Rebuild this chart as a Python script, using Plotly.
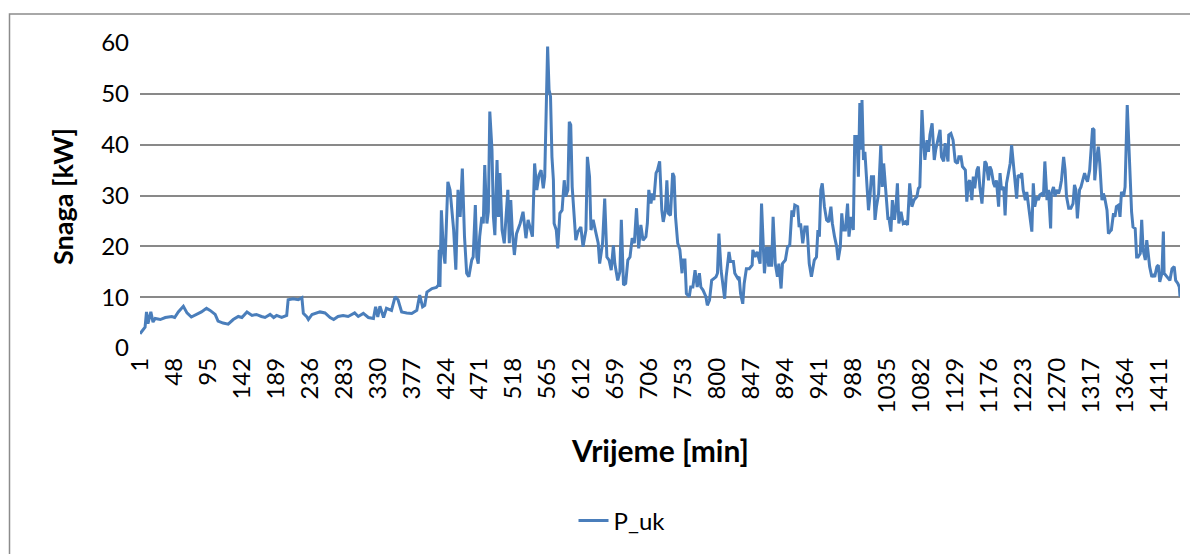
import plotly.graph_objects as go

minutes = [
    1, 8, 10, 12, 16, 19, 22, 29, 36, 45, 49, 54, 61, 66, 72, 79, 86, 93, 98, 105,
    109, 116, 123, 130, 137, 142, 149, 156, 162, 169, 174, 181, 186, 190, 197, 204, 206, 213, 220, 225,
    227, 232, 234, 239, 245, 250, 257, 264, 269, 275, 282, 289, 298, 303, 310, 317, 324, 327, 330, 333,
    338, 342, 349, 354, 358, 363, 370, 377, 384, 388, 392, 395, 398, 405, 411, 414, 415, 416, 418, 421,
    423, 427, 430, 435, 438, 441, 444, 447, 450, 453, 456, 460, 462,
    465, 467, 469, 471, 474, 476, 478, 481, 483, 485, 488, 490, 492, 495, 497, 499, 502, 505, 507, 510,
    512, 514, 516, 519, 522, 527, 531, 535, 538, 541, 544, 547, 550, 553, 556, 559, 561, 563, 565, 567,
    569, 571, 573, 574, 577, 579, 582, 585, 588, 590, 593, 595, 597, 599, 602, 604, 607, 611, 614, 618,
    620, 623, 625, 628, 631, 635, 637, 641, 644, 647, 650, 653, 656, 658, 662, 665, 667, 670, 673, 676,
    679, 682, 685, 688, 691, 694, 697, 701,
    703, 705, 708, 710, 712, 715, 717, 720, 723, 725, 728, 730, 732, 735, 738, 740, 742, 745, 748, 751,
    752, 755, 757, 761, 763, 766, 769, 772, 775, 777, 780, 784, 786, 789, 792, 795, 798, 800, 802, 805,
    807, 810, 812, 816, 818, 822, 824, 828, 830, 832, 835, 837, 840, 844, 848, 849, 852, 855, 859, 861,
    865, 868, 871, 872, 875, 877, 880, 883, 885, 888, 890, 894, 897, 900, 903, 905, 907, 911, 913, 915,
    918, 921, 924, 927, 930, 934, 937,
    939, 941, 943, 945, 948, 951, 954, 957, 959, 962, 965, 967, 970, 972, 974, 977, 980, 982, 985, 988,
    990, 993, 995, 997, 999, 1000, 1002, 1004, 1006, 1009, 1011, 1013, 1016, 1018, 1020, 1023, 1026, 1028, 1030, 1033,
    1036, 1037, 1040, 1042, 1045, 1047, 1049, 1051, 1054, 1057, 1060, 1063, 1066, 1069, 1072, 1076, 1078, 1080, 1083, 1085,
    1087, 1090, 1092, 1094, 1097, 1100, 1102, 1106, 1108, 1110, 1113, 1115, 1119, 1120, 1123, 1126, 1129, 1132, 1134, 1137,
    1139, 1143, 1145, 1147, 1149, 1152, 1154, 1156, 1159, 1161, 1163, 1166, 1168,
    1170, 1172, 1175, 1177, 1179, 1182, 1184, 1186, 1189, 1191, 1193, 1196, 1198, 1200, 1202, 1205, 1207, 1209, 1212, 1214,
    1216, 1219, 1221, 1223, 1226, 1228, 1230, 1232, 1235, 1237, 1239, 1242, 1244, 1246, 1249, 1251, 1253, 1256, 1258, 1261,
    1262, 1265, 1267, 1269, 1272, 1274, 1276, 1279, 1281, 1283, 1286, 1289, 1292, 1294, 1296, 1298, 1301, 1303, 1305, 1308,
    1310, 1312, 1315, 1317, 1319, 1321, 1322, 1325, 1327, 1329, 1332, 1334, 1336, 1339, 1341, 1343, 1345, 1348, 1350, 1352,
    1355, 1357, 1359, 1362, 1364, 1367, 1369, 1371, 1373, 1375, 1378, 1380, 1382, 1385, 1387, 1389, 1392, 1394, 1396, 1398,
    1401, 1403, 1405, 1408, 1410, 1412, 1415, 1417, 1418, 1422, 1424, 1426, 1429, 1432, 1434, 1437, 1439, 1440,
]

p_uk = [
    2.8, 4.1, 7.1, 4.8, 7.1, 5.1, 5.8, 5.6, 6.0, 6.2, 6.0, 7.1, 8.2, 6.9, 6.1, 6.6, 7.1, 7.8, 7.4, 6.6,
    5.3, 4.9, 4.7, 5.6, 6.2, 6.0, 7.1, 6.4, 6.6, 6.2, 6.0, 6.6, 6.0, 6.4, 6.0, 6.4, 9.5, 9.7, 9.5, 9.9,
    6.8, 6.1, 5.6, 6.6, 6.8, 7.1, 6.9, 6.0, 5.6, 6.2, 6.4, 6.2, 6.9, 6.2, 6.8, 6.0, 5.8, 8.1, 6.1, 8.2,
    6.0, 7.8, 7.4, 10.1, 9.5, 7.1, 6.9, 6.8, 7.4, 10.4, 8.1, 8.4, 11.0, 11.7, 11.9, 12.4, 19.3, 12.0, 27.1, 18.6,
    16.6, 32.7, 31.1, 23.2, 15.4, 31.1, 25.8, 35.3, 21.9, 14.7, 14.0, 17.3, 17.9,
    28.1, 17.9, 16.6, 21.9, 25.8, 24.5, 36.0, 24.5, 26.8, 46.5, 39.0, 25.8, 22.2, 37.0, 25.8, 34.4, 23.2, 20.6, 25.8, 31.1,
    20.6, 29.1, 23.2, 18.3, 22.5, 24.5, 26.8, 21.6, 25.2, 23.2, 21.9, 36.3, 31.1, 34.0, 35.0, 31.4, 33.7, 46.5, 59.3, 50.8,
    49.5, 37.6, 33.0, 24.5, 23.2, 19.6, 26.5, 27.1, 33.0, 29.8, 31.1, 44.5, 43.9, 31.7, 25.8, 21.2, 22.9, 23.8, 19.9, 23.2,
    37.6, 33.7, 23.2, 25.2, 23.2, 20.6, 16.6, 20.6, 29.4, 17.9, 17.3, 15.3, 20.2, 16.6, 13.3, 15.0, 25.2, 12.4, 12.7, 17.3,
    17.9, 21.6, 20.6, 27.5, 19.6, 24.2, 21.2, 21.9,
    24.5, 31.1, 28.4, 30.4, 29.1, 34.4, 35.0, 36.7, 27.1, 24.8, 27.1, 33.0, 26.5, 26.1, 34.4, 33.7, 25.8, 20.6, 19.3, 14.7,
    17.3, 17.3, 10.7, 10.1, 12.0, 12.0, 15.3, 12.0, 14.7, 12.0, 11.4, 10.1, 8.4, 9.4, 13.3, 13.7, 14.0, 14.7, 22.5, 15.3,
    13.3, 9.7, 14.0, 18.9, 17.0, 17.0, 14.7, 13.7, 14.0, 10.7, 8.7, 12.7, 15.6, 15.6, 16.3, 19.3, 17.9, 18.9, 16.6, 28.4,
    14.7, 19.9, 16.0, 19.9, 16.0, 25.8, 16.6, 14.0, 16.6, 11.7, 16.6, 17.3, 19.9, 20.2, 27.1, 25.8, 28.1, 27.8, 23.8, 24.5,
    20.6, 23.8, 23.8, 16.6, 14.0, 17.3, 17.9,
    23.2, 21.9, 31.1, 32.4, 27.8, 25.2, 24.8, 27.8, 24.5, 21.9, 19.9, 17.3, 19.9, 26.5, 23.2, 23.2, 28.4, 21.9, 25.8, 23.2,
    41.6, 41.6, 33.7, 48.2, 39.0, 48.8, 37.0, 38.6, 33.7, 27.1, 29.8, 33.7, 33.7, 25.2, 27.8, 30.4, 39.9, 31.7, 36.3, 31.1,
    25.2, 25.8, 22.9, 29.1, 25.2, 27.8, 32.4, 24.5, 26.8, 24.5, 24.8, 24.2, 32.4, 27.8, 29.1, 29.8, 31.4, 31.7, 46.8, 40.9,
    37.0, 40.9, 38.6, 41.9, 44.2, 37.0, 39.0, 41.6, 42.9, 37.6, 36.7, 40.3, 36.7, 41.9, 42.2, 40.9, 36.7, 36.3, 37.6, 37.6,
    35.7, 35.0, 28.8, 32.4, 33.0, 29.1, 33.7, 31.4, 35.0, 35.7, 31.7, 28.4, 32.4,
    36.7, 36.3, 33.0, 35.7, 35.0, 32.4, 31.7, 33.0, 27.8, 34.4, 31.1, 31.7, 26.1, 32.4, 33.7, 36.3, 39.9, 36.3, 32.4, 29.4,
    34.0, 33.7, 34.4, 31.1, 29.1, 30.7, 28.4, 27.1, 22.9, 32.4, 27.8, 29.8, 29.1, 30.1, 30.4, 29.8, 36.7, 29.1, 31.1, 23.5,
    30.4, 31.7, 29.8, 31.1, 30.4, 31.4, 33.0, 37.6, 35.0, 29.8, 27.5, 27.5, 28.4, 32.1, 31.1, 25.5, 31.1, 31.7, 33.0, 34.4,
    33.4, 32.7, 35.0, 38.3, 43.2, 42.9, 33.0, 37.6, 39.6, 36.3, 29.1, 30.4, 29.4, 27.1, 22.5, 22.9, 23.2, 26.5, 25.8, 27.8,
    28.1, 25.8, 30.7, 29.8, 31.7, 47.8, 40.9, 31.1, 26.8, 23.8, 23.5, 17.9, 17.9, 18.6, 25.2, 19.3, 17.3, 21.2, 17.9, 16.0,
    14.0, 14.3, 14.0, 16.0, 16.3, 13.0, 14.7, 22.9, 14.7, 14.0, 13.7, 13.3, 15.6, 16.0, 13.3, 12.7, 12.0, 10.1,
]

x_tick_values = list(range(1, 1441, 47))
x_tick_labels = [str(v) for v in x_tick_values]
y_tick_values = [0, 10, 20, 30, 40, 50, 60]

FONT = "Lato"
GRID = "#898989"
LINE = "#4A7EBB"

fig = go.Figure()
fig.add_trace(go.Scatter(
    x=minutes, y=p_uk, mode="lines", name="P_uk",
    line=dict(color=LINE, width=3),
))

# the page body adds an 8px offset; target positions are given in screen pixels
OFF = 8
W, H = 1198, 554
L, R, T, B = 140 - OFF, 1180 - OFF, 43 - OFF, 348 - OFF
pw, ph = R - L, B - T

def px(x):
    return (x - OFF - L) / pw

def py(y):
    return (B - (y - OFF)) / ph

fig.update_layout(
    width=W, height=H,
    margin=dict(l=L, r=W - R, t=T, b=H - B, autoexpand=False),
    paper_bgcolor="white", plot_bgcolor="white",
    font=dict(family=FONT, size=24, color="#000000"),
    showlegend=True,
    legend=dict(
        orientation="h", x=px(622), y=py(521), xanchor="center", yanchor="middle",
        font=dict(family=FONT, size=24, color="#000000"),
        bgcolor="rgba(0,0,0,0)",
    ),
    xaxis=dict(
        range=[1, 1440], tickmode="array", tickvals=x_tick_values, ticktext=x_tick_labels,
        tickangle=-90, showgrid=False, zeroline=False, showline=False,
        ticks="", tickfont=dict(family=FONT, size=24, color="#000000"),
        ticklabelstandoff=4,
    ),
    yaxis=dict(
        range=[0, 60], tickmode="array", tickvals=y_tick_values,
        showgrid=True, gridcolor=GRID, gridwidth=1.5, zeroline=False, showline=False,
        ticks="", tickfont=dict(family=FONT, size=24, color="#000000"),
        ticklabelstandoff=10,
    ),
    annotations=[
        dict(text="<b>Snaga [kW]</b>", x=px(63), y=py(197), xref="paper", yref="paper",
             textangle=-90, showarrow=False, xanchor="center", yanchor="middle",
             font=dict(family=FONT, size=27, color="#000000")),
        dict(text="<b>Vrijeme [min]</b>", x=px(660), y=py(450), xref="paper", yref="paper",
             showarrow=False, xanchor="center", yanchor="middle",
             font=dict(family=FONT, size=30, color="#000000")),
    ],
    shapes=[
        dict(type="rect", xref="paper", yref="paper",
             x0=px(9.5), x1=px(1210), y0=py(14), y1=py(600),
             line=dict(color="#8c8c8c", width=1.5), fillcolor="rgba(0,0,0,0)", layer="below"),
    ],
)

fig.write_html("out.html")
